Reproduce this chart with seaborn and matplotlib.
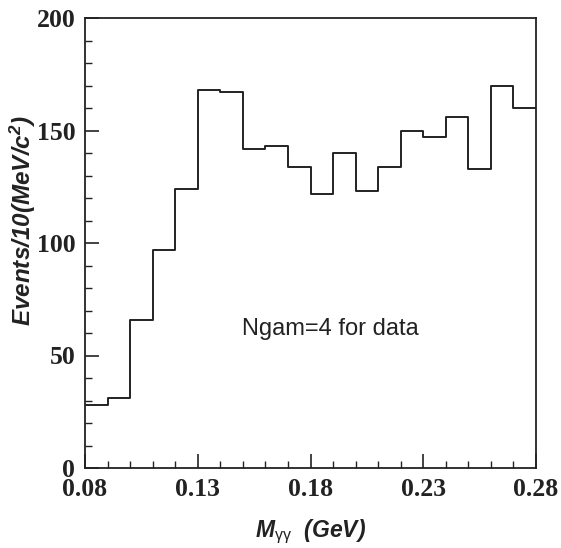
import numpy as np
import pandas as pd
import matplotlib
matplotlib.use("Agg")
import matplotlib.pyplot as plt
from matplotlib.ticker import MultipleLocator, FixedLocator
import seaborn as sns

bin_lefts = [0.08, 0.09, 0.10, 0.11, 0.12, 0.13, 0.14, 0.15, 0.16, 0.17,
             0.18, 0.19, 0.20, 0.21, 0.22, 0.23, 0.24, 0.25, 0.26, 0.27]
counts = [28, 31, 66, 97, 124, 168, 167, 142, 143, 134,
          122, 140, 123, 134, 150, 147, 156, 133, 170, 160]
x_ticks = [0.08, 0.13, 0.18, 0.23, 0.28]
x_tick_labels = ["0.08", "0.13", "0.18", "0.23", "0.28"]
y_ticks = [0, 50, 100, 150, 200]

sns.set_theme(style="ticks")
plt.rcParams['font.family'] = ['Liberation Sans', 'DejaVu Sans']
plt.rcParams['mathtext.fontset'] = 'custom'
plt.rcParams['mathtext.rm'] = 'Liberation Sans'
plt.rcParams['mathtext.it'] = 'Liberation Sans:italic'
plt.rcParams['mathtext.bf'] = 'Liberation Sans:bold:italic'
plt.rcParams['mathtext.bfit'] = 'Liberation Sans:bold:italic'

df = pd.DataFrame({"m": np.array(bin_lefts) + 0.005, "w": counts})
edges = [round(b, 3) for b in bin_lefts] + [round(bin_lefts[-1] + 0.01, 3)]

fig = plt.figure(figsize=(5.61, 5.48), dpi=100)
ax = fig.add_axes([85/561, 1-468/548, (536-85)/561, (468-18)/548])

sns.histplot(data=df, x="m", weights="w", bins=edges, element="step",
             fill=False, color="#222222", linewidth=1.4, ax=ax)

ax.set_xlim(0.08, 0.28)
ax.set_ylim(0, 200)
ax.xaxis.set_major_locator(FixedLocator(x_ticks))
ax.xaxis.set_minor_locator(MultipleLocator(0.01))
ax.yaxis.set_major_locator(FixedLocator(y_ticks))
ax.yaxis.set_minor_locator(MultipleLocator(10))
ax.set_xticklabels(x_tick_labels)
ax.tick_params(which="both", direction="in", top=False, right=False, color="#222222")
ax.tick_params(which="major", length=10, width=1.2)
ax.tick_params(which="minor", length=5, width=1.0)
ax.tick_params(axis="x", pad=7)
ax.tick_params(axis="y", pad=7)
for lab in ax.get_xticklabels() + ax.get_yticklabels():
    lab.set_fontfamily("Liberation Serif")
    lab.set_fontweight("bold")
    lab.set_fontsize(18.5)
    lab.set_color("#222222")
for s in ax.spines.values():
    s.set_linewidth(1.3)
    s.set_color("#222222")

ax.set_xlabel(r"$\mathbf{M}_{\mathrm{\gamma\gamma}}$  (GeV)", fontsize=16.5, fontweight="bold",
              fontstyle="italic", color="#222222", labelpad=12)
ax.set_ylabel(r"Events/10(MeV/c$^{\mathbf{2}}$)", fontsize=17.5, fontweight="bold",
              fontstyle="italic", color="#222222", labelpad=8)
ax.yaxis.set_label_coords(-0.105, 0.549)

ax.text(0.189, 62, "Ngam=4 for data", fontsize=17, color="#222222",
        ha="center", va="center")

fig.savefig("out.png", dpi=100)
